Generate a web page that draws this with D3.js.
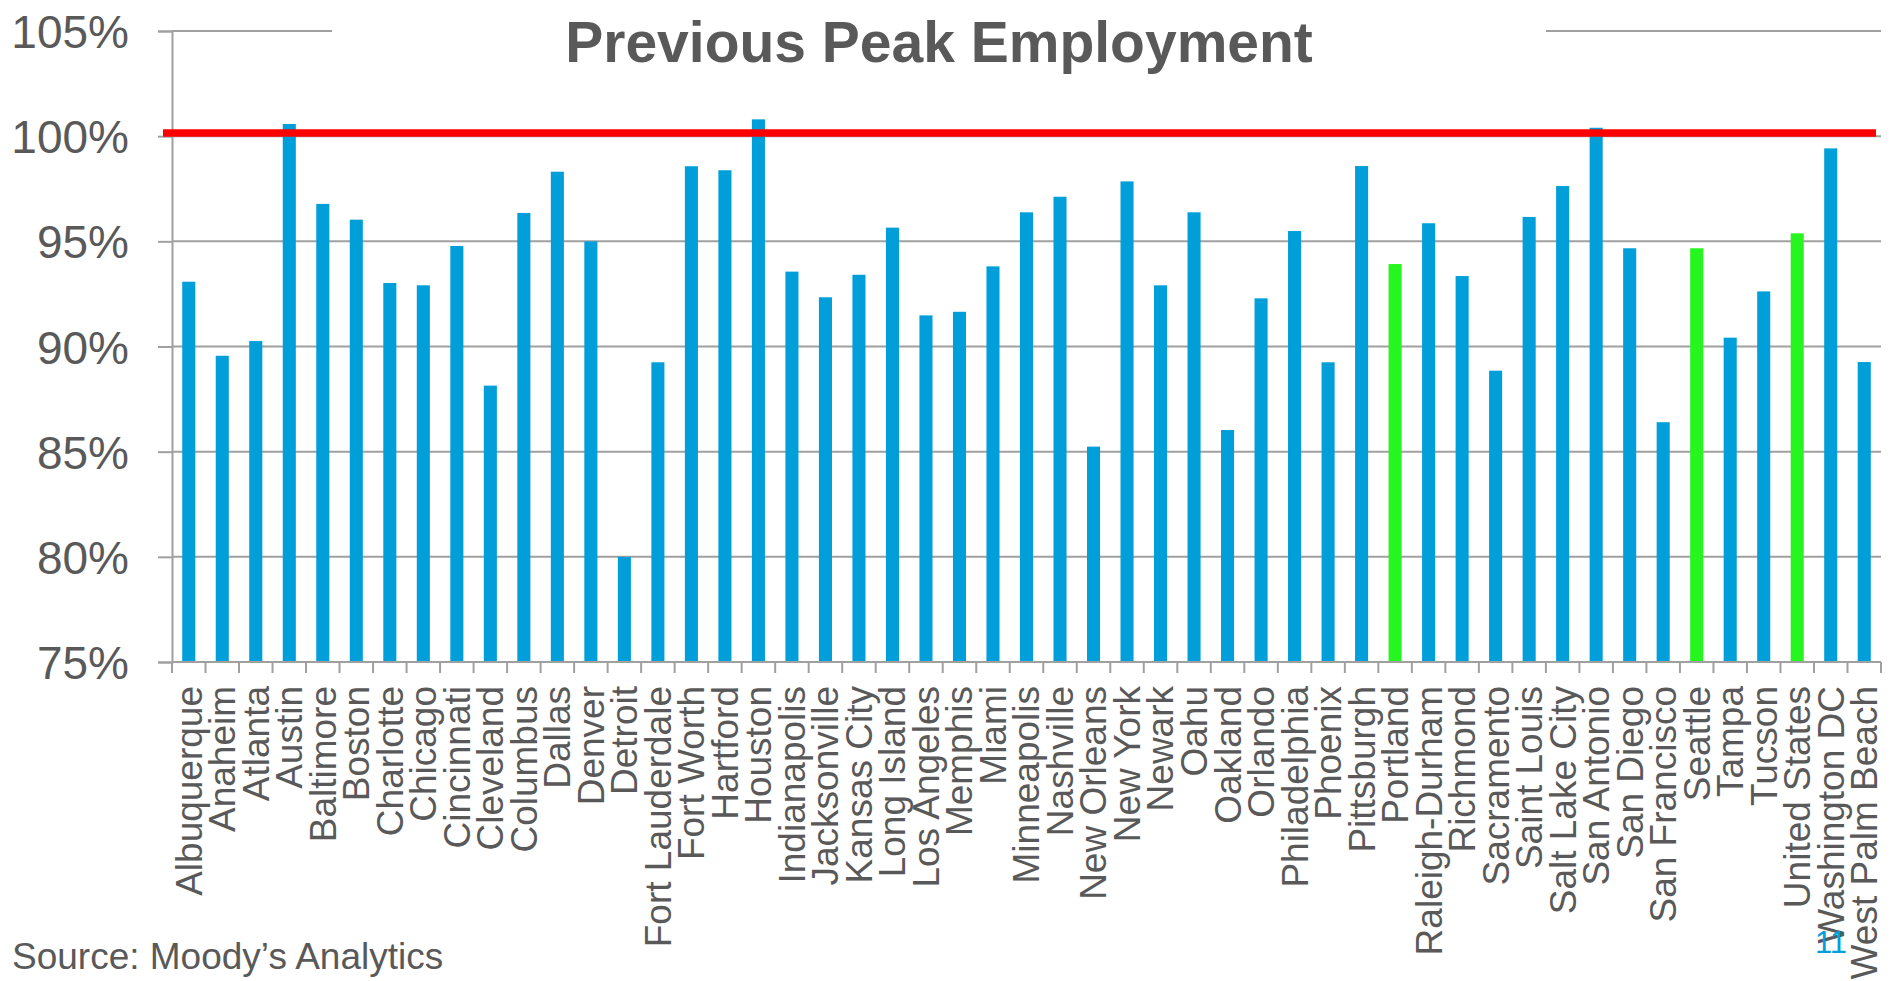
<!DOCTYPE html>
<html>
<head>
<meta charset="utf-8">
<script src="https://cdn.jsdelivr.net/npm/d3@7"></script>
<style>
  html, body { margin: 0; padding: 0; background: #fff; }
  svg { display: block; font-family: "Liberation Sans", Arial, sans-serif; }
</style>
</head>
<body>
<svg id="chart" width="1893" height="981"></svg>
<script>
// Employment as a share of the previous peak, by metro area
const categories = [
  "Albuquerque", "Anaheim", "Atlanta", "Austin", "Baltimore", "Boston", "Charlotte",
  "Chicago", "Cincinnati", "Cleveland", "Columbus", "Dallas", "Denver", "Detroit",
  "Fort Lauderdale", "Fort Worth", "Hartford", "Houston", "Indianapolis", "Jacksonville",
  "Kansas City", "Long Island", "Los Angeles", "Memphis", "Miami", "Minneapolis",
  "Nashville", "New Orleans", "New York", "Newark", "Oahu", "Oakland", "Orlando",
  "Philadelphia", "Phoenix", "Pittsburgh", "Portland", "Raleigh-Durham", "Richmond",
  "Sacramento", "Saint Louis", "Salt Lake City", "San Antonio", "San Diego",
  "San Francisco", "Seattle", "Tampa", "Tucson", "United States", "Washington DC",
  "West Palm Beach"
];

const values = [
  93.08, 89.56, 90.26, 100.58, 96.78, 96.03, 93.02,
  92.91, 94.78, 88.14, 96.35, 98.31, 95.0, 80.0,
  89.25, 98.57, 98.38, 100.8, 93.56, 92.34,
  93.41, 95.65, 91.48, 91.65, 93.81, 96.38,
  97.12, 85.24, 97.85, 92.91, 96.38, 86.03, 92.29,
  95.49, 89.25, 98.58, 93.92, 95.86, 93.35,
  88.85, 96.16, 97.63, 100.4, 94.67,
  86.4, 94.67, 90.42, 92.62, 95.38, 99.42,
  89.26
];

// Highlighted series members
const highlighted = ["Portland", "Seattle", "United States"];

const yTicks = [75, 80, 85, 90, 95, 100, 105];
const peakLine = 100.15;

const titleText = "Previous Peak Employment";
const sourceText = "Source: Moody\u2019s Analytics";
const pageNumber = "11";

const svg = d3.select("#chart");
const textColor = "#595959";
const gridColor = "#a0a0a0";
const blue = "#009fda";
const green = "#26f51f";

const plotLeft = 172, plotRight = 1881, plotTop = 31, plotBottom = 662;

const x = d3.scaleBand()
  .domain(categories)
  .range([plotLeft, plotRight])
  .paddingInner(0.61)
  .paddingOuter(0.305);

const y = d3.scaleLinear()
  .domain([75, 105])
  .range([plotBottom, plotTop]);

const step = x.step();
const gap = (step - x.bandwidth()) / 2;

// horizontal gridlines
svg.append("g")
  .selectAll("line")
  .data(yTicks.filter(d => d !== 75))
  .join("line")
  .attr("x1", plotLeft).attr("x2", plotRight)
  .attr("y1", d => y(d)).attr("y2", d => y(d))
  .attr("stroke", gridColor)
  .attr("stroke-width", 2);

// y axis
const yAxis = svg.append("g")
  .attr("transform", `translate(${plotLeft},0)`)
  .call(d3.axisLeft(y).tickValues(yTicks).tickSize(14).tickPadding(29)
    .tickFormat(d => d + "%"));
yAxis.select(".domain").attr("stroke", gridColor).attr("stroke-width", 2);
yAxis.selectAll(".tick line").attr("stroke", gridColor).attr("stroke-width", 2);
yAxis.selectAll(".tick text")
  .attr("fill", textColor)
  .attr("font-size", 46)
  .attr("font-family", "Liberation Sans, Arial, sans-serif")
  .attr("dy", "0.36em");

// bars
svg.append("g")
  .selectAll("rect")
  .data(categories.map((c, i) => ({ c, v: values[i] })))
  .join("rect")
  .attr("x", d => x(d.c))
  .attr("width", x.bandwidth())
  .attr("y", d => y(d.v))
  .attr("height", d => y(75) - y(d.v))
  .attr("fill", d => highlighted.includes(d.c) ? green : blue);

// x axis baseline and category boundary ticks
svg.append("line")
  .attr("x1", plotLeft).attr("x2", plotRight)
  .attr("y1", plotBottom).attr("y2", plotBottom)
  .attr("stroke", gridColor).attr("stroke-width", 2);

const boundaries = categories.map(c => x(c) - gap)
  .concat([x(categories[categories.length - 1]) + x.bandwidth() + gap]);
svg.append("g")
  .selectAll("line")
  .data(boundaries)
  .join("line")
  .attr("x1", d => d).attr("x2", d => d)
  .attr("y1", plotBottom).attr("y2", plotBottom + 11)
  .attr("stroke", gridColor).attr("stroke-width", 2);

// category labels
svg.append("g")
  .selectAll("text")
  .data(categories)
  .join("text")
  .attr("transform", d => `translate(${x(d) + x.bandwidth() / 2},686) rotate(-90)`)
  .attr("text-anchor", "end")
  .attr("dy", "0.35em")
  .attr("fill", textColor)
  .attr("font-size", 37)
  .text(d => d);

// previous peak reference line
svg.append("line")
  .attr("x1", 163).attr("x2", 1876)
  .attr("y1", y(peakLine)).attr("y2", y(peakLine))
  .attr("stroke", "#ff0000")
  .attr("stroke-width", 7.5);

// title with a white backing that interrupts the top gridline
svg.append("rect")
  .attr("x", 332).attr("y", 20)
  .attr("width", 1546 - 332).attr("height", 30)
  .attr("fill", "#fff");

svg.append("text")
  .attr("x", 939).attr("y", 62)
  .attr("text-anchor", "middle")
  .attr("font-size", 57)
  .attr("font-weight", "bold")
  .attr("fill", textColor)
  .text(titleText);

svg.append("text")
  .attr("x", 12).attr("y", 969)
  .attr("font-size", 37)
  .attr("fill", textColor)
  .text(sourceText);

svg.append("text")
  .attr("x", 1831).attr("y", 953)
  .attr("text-anchor", "middle")
  .attr("font-size", 31)
  .attr("fill", blue)
  .text(pageNumber);
</script>
</body>
</html>
